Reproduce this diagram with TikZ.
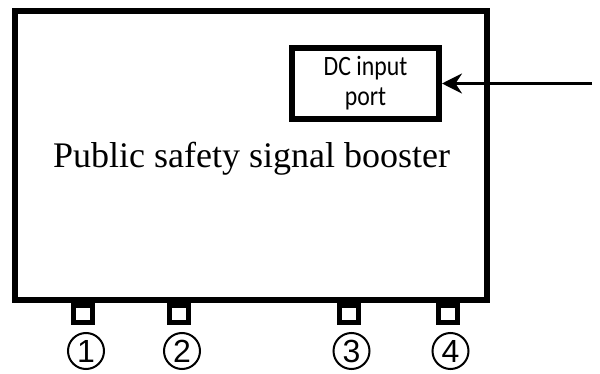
\documentclass[tikz,border=0pt]{standalone}
\usepackage{fontspec}
\setmainfont{Liberation Serif}
\newfontfamily\portfont[FakeStretch=0.85]{Carlito}
\newfontfamily\numfont{Liberation Sans}
\usetikzlibrary{arrows.meta,positioning}

\begin{document}
\begin{tikzpicture}[x=1pt, y=-1pt,
  frame/.style={draw, line width=6pt, inner sep=0pt},
  portbox/.style={draw, line width=5pt, fill=white, minimum width=19pt, minimum height=17pt, inner sep=0pt},
  portnum/.style={circle, draw, line width=2pt, minimum size=36pt, inner sep=0pt,
    font=\numfont\fontsize{32}{32}\selectfont}]
  \useasboundingbox (0,0) rectangle (600,374);
  \node[frame, minimum width=472pt, minimum height=289pt] (booster) at (251,155.5) {};
  \node[font=\fontsize{36}{36}\selectfont, inner sep=0pt, anchor=base] (title) at (251.5,168) {Public safety signal booster};
  \node[frame, minimum width=147pt, minimum height=71pt, align=center,
        font=\portfont\fontsize{28}{30}\selectfont] (dc) at (365.5,83.5) {DC input\\port};
  \coordinate (supply) at (592,83.5);
  \draw[-{Stealth[length=20pt, width=20pt]}, line width=3pt] (supply) -- (dc.east);
  \foreach \i/\x in {1/83, 2/179, 3/348.5, 4/447.5} {
    \node[portbox] (p\i) at (\x,314) {};
    \node[portnum, below=7pt of p\i, xshift=3pt] (n\i) {\i};
  }
\end{tikzpicture}
\end{document}
